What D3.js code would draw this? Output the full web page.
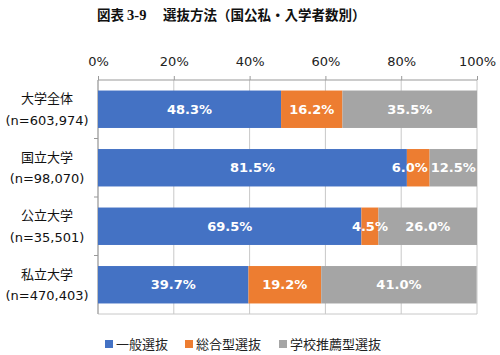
<!DOCTYPE html>
<html><head><meta charset="utf-8">
<script src="https://cdn.jsdelivr.net/npm/d3@7"></script>
<style>body{margin:0;background:#fff}svg{display:block}</style>
</head><body>
<svg id="c" width="500" height="355"></svg>
<script>
const categories = ["大学全体", "国立大学", "公立大学", "私立大学"];
const sampleSizes = ["(n=603,974)", "(n=98,070)", "(n=35,501)", "(n=470,403)"];
const seriesNames = ["一般選抜", "総合型選抜", "学校推薦型選抜"];
const general = [48.3, 81.5, 69.5, 39.7];
const comprehensive = [16.2, 6.0, 4.5, 19.2];
const recommendation = [35.5, 12.5, 26.0, 41.0];
const tickValues = [0, 20, 40, 60, 80, 100];
const colors = ["#4472C4", "#ED7D31", "#A5A5A5"];

const svg = d3.select("#c");
const m = {l: 98, r: 477, t: 80, b: 314};
const font = "'DejaVu Sans','Noto Sans CJK JP',sans-serif";

const x = d3.scaleLinear().domain([0, 100]).range([m.l, m.r]);
const y = d3.scaleBand().domain(categories).range([m.t, m.b]).paddingInner(0.36).paddingOuter(0.18);
const yOuter = d3.scaleBand().domain(categories).range([m.t, m.b]);

// title
const tg = svg.append("g").attr("font-family", "'Noto Sans CJK JP',sans-serif")
  .attr("font-weight", "bold").attr("font-size", 13.5).attr("fill", "#111");
tg.append("text").attr("x", 97).attr("y", 20)
  .call(t => {
    t.append("tspan").text("図表 ");
    t.append("tspan").attr("font-family", "'Liberation Serif',serif").attr("font-size", 14.5).text("3-9");
  });
tg.append("text").attr("x", 163).attr("y", 20).text("選抜方法（国公私・入学者数別）");

// gridlines
svg.append("g").selectAll("line").data(tickValues).join("line")
  .attr("x1", d => x(d)).attr("x2", d => x(d)).attr("y1", m.t).attr("y2", m.b)
  .attr("stroke", "#c8c8c8").attr("stroke-width", 1);
svg.append("line").attr("x1", m.l).attr("x2", m.r).attr("y1", m.b).attr("y2", m.b)
  .attr("stroke", "#c8c8c8");

// top axis
const xAxis = d3.axisTop(x).tickValues(tickValues).tickFormat(d => d + "%").tickSize(4).tickPadding(10);
const gx = svg.append("g").attr("transform", `translate(0,${m.t})`).call(xAxis);
gx.select(".domain").attr("stroke", "#999").attr("d", `M${m.l},0H${m.r}`);
gx.selectAll(".tick line").attr("stroke", "#999");
gx.selectAll("text").attr("font-family", font).attr("font-size", 13).attr("fill", "#222");

// left axis line & ticks at band boundaries
svg.append("line").attr("x1", m.l).attr("x2", m.l).attr("y1", m.t).attr("y2", m.b).attr("stroke", "#999");
svg.append("g").selectAll("line").data(categories.slice(1)).join("line")
  .attr("x1", m.l - 4).attr("x2", m.l).attr("y1", d => yOuter(d)).attr("y2", d => yOuter(d))
  .attr("stroke", "#999");

// stacked data
const rows = categories.map((c, i) => ({cat: c, vals: [general[i], comprehensive[i], recommendation[i]]}));
const segs = [];
rows.forEach(r => {
  let acc = 0;
  r.vals.forEach((v, j) => { segs.push({cat: r.cat, s: j, x0: acc, x1: acc + v, v}); acc += v; });
});

svg.append("g").selectAll("rect").data(segs).join("rect")
  .attr("x", d => x(d.x0)).attr("width", d => x(d.x1) - x(d.x0))
  .attr("y", d => y(d.cat)).attr("height", y.bandwidth())
  .attr("fill", d => colors[d.s]);

const labels = svg.append("g").selectAll("text").data(segs).join("text")
  .attr("x", d => (x(d.x0) + x(d.x1)) / 2).attr("y", d => y(d.cat) + y.bandwidth() / 2)
  .attr("dy", "0.36em").attr("text-anchor", "middle")
  .attr("font-family", font).attr("font-weight", "bold").attr("font-size", 13).attr("fill", "#fff")
  .text(d => d.v.toFixed(1) + "%");

// resolve overlaps within each bar: shift earlier labels left
categories.forEach(c => {
  const ls = labels.filter(d => d.cat === c).nodes();
  for (let k = ls.length - 2; k >= 0; k--) {
    const a = ls[k], b = ls[k + 1];
    const wa = a.getComputedTextLength(), wb = b.getComputedTextLength();
    const ax = +a.getAttribute("x"), bx = +b.getAttribute("x");
    const maxAx = bx - wb / 2 - 3 - wa / 2;
    if (ax > maxAx) a.setAttribute("x", maxAx);
  }
});

// category labels
const cl = svg.append("g").selectAll("g").data(categories).join("g")
  .attr("transform", d => `translate(47,${y(d) + y.bandwidth() / 2})`);
cl.append("text").attr("y", -10.5).attr("dy", "0.36em").attr("text-anchor", "middle")
  .attr("font-family", font).attr("font-size", 13).attr("fill", "#111").text(d => d);
cl.append("text").attr("y", 11).attr("dy", "0.36em").attr("text-anchor", "middle")
  .attr("font-family", font).attr("font-size", 13).attr("fill", "#111")
  .text((d, i) => sampleSizes[i]);

// legend
const legX = [105, 185, 279];
const lg = svg.append("g").selectAll("g").data(seriesNames).join("g")
  .attr("transform", (d, i) => `translate(${legX[i]},344)`);
lg.append("rect").attr("x", 0).attr("y", -4).attr("width", 8).attr("height", 8).attr("fill", (d, i) => colors[i]);
lg.append("text").attr("x", 11).attr("dy", "0.36em")
  .attr("font-family", font).attr("font-size", 13).attr("fill", "#222").text(d => d);
</script>
</body></html>
